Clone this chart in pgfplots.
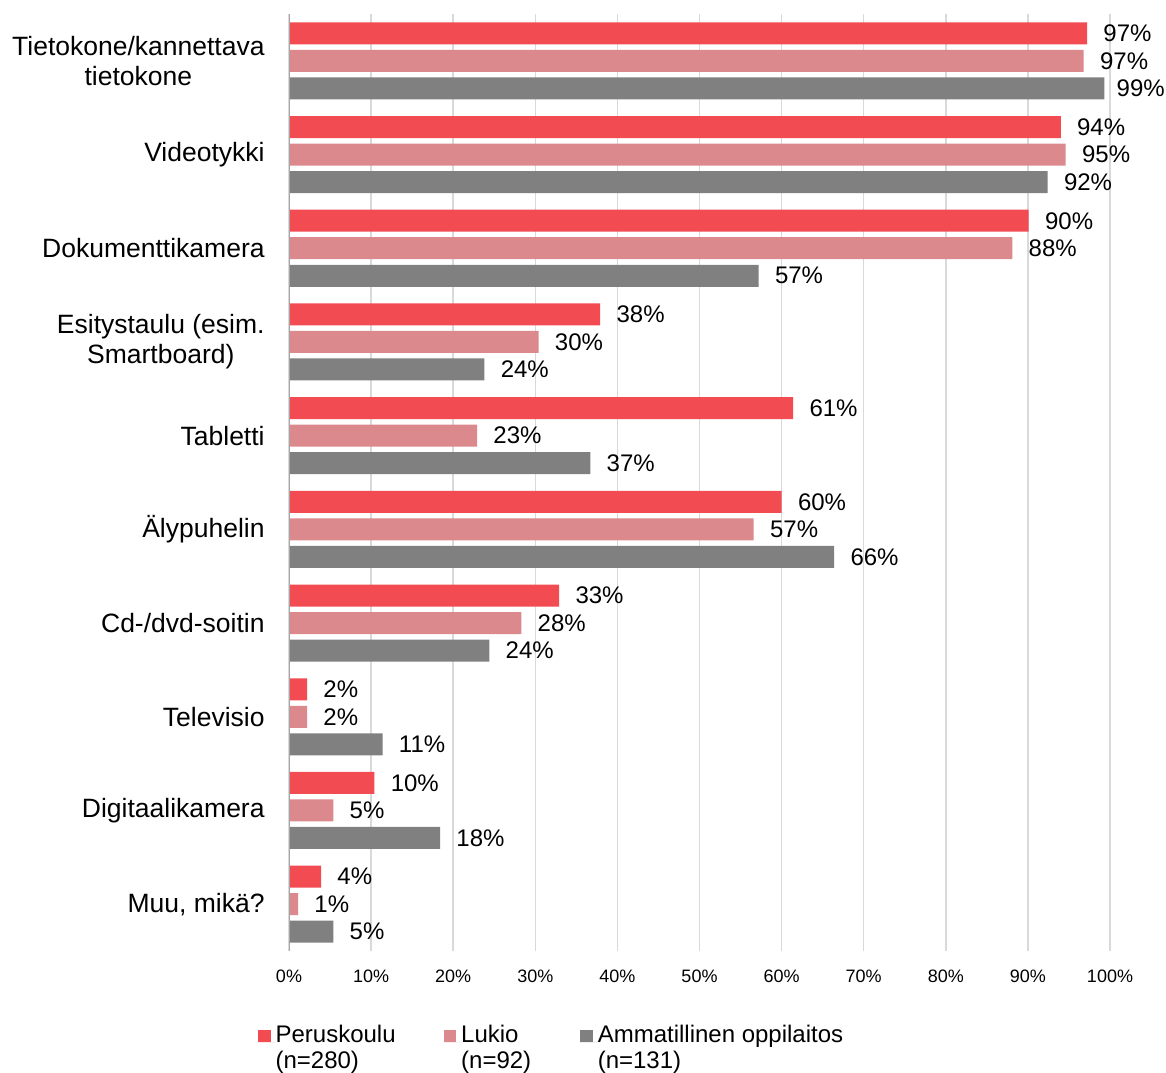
\documentclass[border=0pt]{standalone}
\usepackage{fontspec}
\setmainfont{Liberation Sans}
\usepackage{pgfplots}
\pgfplotsset{compat=1.18}
\usepackage{pgfplotstable}
\definecolor{cPer}{RGB}{242,75,82}
\definecolor{cLuk}{RGB}{219,137,141}
\definecolor{cAmm}{RGB}{128,128,128}
\pgfplotstableread{
idx per luk amm
0 97.2 96.8 99.3
1 94.0 94.6 92.4
2 90.1 88.1 57.2
3 37.9 30.4 23.8
4 61.4 22.9 36.7
5 60.0 56.6 66.4
6 32.9 28.3 24.4
7 2.2 2.2 11.4
8 10.4 5.4 18.4
9 3.9 1.1 5.4
}\data
\pgfplotsset{sqlegend/.style={legend image code/.code={\fill[##1] (0pt,0pt) rectangle (6.3pt,6pt); \path (0pt,0pt) -- (8.8pt,0pt);}}}
\begin{document}
\begin{tikzpicture}
\begin{axis}[
 at={(144.5pt,60.5pt)}, anchor=south west,
 scale only axis, width=410.5pt, height=468.5pt,
 xmin=0, xmax=100, ymin=-0.5, ymax=9.5,
 y dir=reverse,
 axis line style={draw=none},
 tick style={draw=none}, major tick length=0pt,
 xtick={0,10,...,100},
 xticklabel={\pgfmathprintnumber{\tick}\%},
 /pgf/number format/assume math mode=true,
 xticklabel style={font=\fontsize{9}{10}\selectfont, inner sep=0pt, anchor=north, yshift=-9.5pt},
 ytick={0,...,9},
 yticklabels={{Tietokone/kannettava\\tietokone},Videotykki,Dokumenttikamera,{Esitystaulu (esim.\\Smartboard)},Tabletti,Älypuhelin,Cd-/dvd-soitin,Televisio,Digitaalikamera,{Muu, mikä?}},
 yticklabel style={font=\fontsize{13.25}{15}\selectfont, align=center, inner sep=0pt, anchor=east, xshift=-12pt},
 xmajorgrids, grid style={color=black!15, line width=0.75pt},
 bar width=0.2348,
 point meta=x,
 nodes near coords={\pgfmathprintnumber[fixed,precision=0]{\pgfplotspointmeta}\%},
 every node near coord/.append style={anchor=west, inner sep=0pt, xshift=8pt, font=\fontsize{12}{14}\selectfont, text=black},
 legend columns=3,
 legend style={at={(-0.0378,-0.079)}, anchor=north west, draw=none, fill=none, inner sep=0pt, outer sep=0pt,
   /tikz/every even column/.append style={column sep=0pt},
   nodes={inner sep=0pt, anchor=base west, font=\fontsize{12}{13}\selectfont}},
]
\addplot[xbar, bar shift=0pt, fill=cPer, draw=none, sqlegend] table[x=per, y expr=\thisrow{idx}-0.2935]{\data};
\addlegendentry{\parbox[t]{84pt}{Peruskoulu\\(n=280)}}
\addplot[xbar, bar shift=0pt, fill=cLuk, draw=none, sqlegend] table[x=luk, y=idx]{\data};
\addlegendentry{\parbox[t]{59.5pt}{Lukio\\(n=92)}}
\addplot[xbar, bar shift=0pt, fill=cAmm, draw=none, sqlegend,
  coordinate style/.condition={\coordindex==0}{xshift=-2pt}] table[x=amm, y expr=\thisrow{idx}+0.2935]{\data};
\addlegendentry{\parbox[t]{130pt}{Ammatillinen oppilaitos\\(n=131)}}
\draw[color=black!35, line width=1pt] (axis cs:0,-0.5) -- (axis cs:0,9.5);
\end{axis}
\pgfresetboundingbox
\path[use as bounding box] (0,0) rectangle (583pt,536pt);
\end{tikzpicture}
\end{document}
